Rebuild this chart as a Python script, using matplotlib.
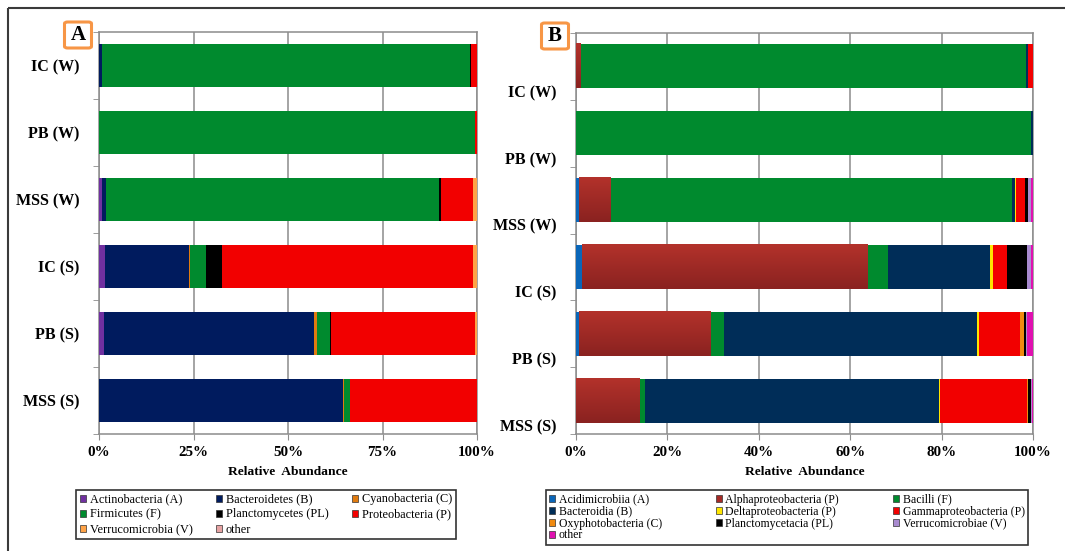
import numpy as np
import matplotlib
matplotlib.use('Agg')
from matplotlib import pyplot as plt
from matplotlib.patches import Patch, FancyBboxPatch
from matplotlib.lines import Line2D

plt.rcParams['font.family'] = ['Liberation Serif', 'DejaVu Serif']

samples = ['IC (W)', 'PB (W)', 'MSS (W)', 'IC (S)', 'PB (S)', 'MSS (S)']

# panel A: phylum level (% of reads)
phyla = ['Actinobacteria (A)', 'Bacteroidetes (B)', 'Cyanobacteria (C)',
         'Firmicutes (F)', 'Planctomycetes (PL)', 'Proteobacteria (P)',
         'Verrucomicrobia (V)', 'other']
phyla_colors = ['#7030A0', '#001B5E', '#E07B10', '#008A2E',
                '#000000', '#F20000', '#FFA347', '#E6A3A3']
actinobacteria = [0.1, 0.0, 0.8, 1.7, 1.2, 0.0]
bacteroidetes = [0.6, 0.0, 1.0, 22.0, 55.8, 64.5]
cyanobacteria = [0.0, 0.0, 0.0, 0.35, 0.8, 0.4]
firmicutes = [97.4, 99.5, 88.1, 4.3, 3.3, 1.6]
planctomycetes = [0.3, 0.0, 0.6, 4.3, 0.3, 0.0]
proteobacteria = [1.6, 0.5, 8.5, 66.3, 38.2, 33.5]
verrucomicrobia = [0.0, 0.0, 0.9, 1.0, 0.4, 0.0]
other_a = [0.0, 0.0, 0.0, 0.05, 0.0, 0.0]
phyla_values = [actinobacteria, bacteroidetes, cyanobacteria, firmicutes,
                planctomycetes, proteobacteria, verrucomicrobia, other_a]

# panel B: class level (% of reads)
classes = ['Acidimicrobiia (A)', 'Alphaproteobacteria (P)', 'Bacilli (F)',
           'Bacteroidia (B)', 'Deltaproteobacteria (P)', 'Gammaproteobacteria (P)',
           'Oxyphotobacteria (C)', 'Planctomycetacia (PL)', 'Verrucomicrobiae (V)',
           'other']
class_colors = ['#0A66B8', '#A52A26', '#008A2E', '#002D58', '#FFE600',
                '#F20000', '#F08A10', '#000000', '#A98BD0', '#E010B0']
acidimicrobiia = [0.0, 0.0, 0.6, 1.3, 0.6, 0.0]
alphaproteobacteria = [0.9, 0.0, 6.8, 62.4, 28.7, 13.9]
bacilli = [97.5, 99.5, 88.0, 4.6, 3.1, 1.2]
bacteroidia = [0.6, 0.5, 0.6, 22.2, 55.3, 64.3]
deltaproteobacteria = [0.0, 0.0, 0.3, 0.65, 0.5, 0.2]
gammaproteobacteria = [0.9, 0.0, 1.9, 3.1, 8.9, 19.0]
oxyphotobacteria = [0.0, 0.0, 0.0, 0.0, 0.9, 0.4]
planctomycetacia = [0.0, 0.0, 0.7, 4.5, 0.4, 0.5]
verrucomicrobiae = [0.0, 0.0, 0.6, 0.9, 0.3, 0.3]
other_b = [0.1, 0.0, 0.5, 0.35, 1.3, 0.2]
class_values = [acidimicrobiia, alphaproteobacteria, bacilli, bacteroidia,
                deltaproteobacteria, gammaproteobacteria, oxyphotobacteria,
                planctomycetacia, verrucomicrobiae, other_b]

GRID = '#8C8C8C'


def stacked_panel(ax, values, colors, height, ticks, label_shift, gradient_idx=None):
    pos = np.arange(len(samples))
    left = np.zeros(len(samples))
    for i, (vals, col) in enumerate(zip(values, colors)):
        vals = np.asarray(vals, dtype=float)
        ax.barh(pos, vals, left=left, height=height, color=col, linewidth=0, zorder=3)
        if i == gradient_idx:
            # darker toward the bottom of each bar
            grad = np.linspace(0, 1, 64).reshape(-1, 1)
            cmap = matplotlib.colors.LinearSegmentedColormap.from_list(
                'shade', ['#B3322B', '#8A2220'])
            for p, l, v in zip(pos, left, vals):
                if v > 0:
                    ax.imshow(grad, cmap=cmap, aspect='auto', zorder=3.5,
                              extent=(l, l + v, p + height / 2, p - height / 2))
        left += vals

    ax.set_xlim(0, 100)
    ax.set_ylim(len(samples) - 0.5, -0.5)
    ax.set_xticks(ticks)
    ax.set_xticklabels([f'{t}%' for t in ticks], fontsize=10.8, fontweight='bold')
    ax.tick_params(axis='x', length=4, color=GRID, pad=5)
    ax.set_yticks(pos + label_shift)
    ax.set_yticklabels(samples, fontsize=11.5, fontweight='bold')
    ax.tick_params(axis='y', length=0, pad=14)
    ax.set_yticks(np.arange(len(samples) + 1) - 0.5, minor=True)
    ax.tick_params(axis='y', which='minor', length=4, color=GRID)
    ax.xaxis.grid(True, color=GRID, linewidth=1.1, zorder=0)
    ax.set_axisbelow(True)
    for s in ax.spines.values():
        s.set_color(GRID)
        s.set_linewidth(1.1)
    ax.set_xlabel('Relative  Abundance', fontsize=9.7, fontweight='bold', labelpad=5)


def panel_tag(fig, x, y, letter):
    w, h = 27 / 1065, 26 / 551
    box = FancyBboxPatch((x - w / 2, y - h / 2), w, h, transform=fig.transFigure,
                         boxstyle='round,pad=0,rounding_size=0.003',
                         facecolor='white', edgecolor='#F79646', linewidth=2.2)
    fig.patches.append(box)
    fig.text(x, y, letter, ha='center', va='center', fontsize=15, fontweight='bold')


def square_handles(colors):
    return [Patch(facecolor=c, edgecolor='#333333', linewidth=0.5) for c in colors]


fig = plt.figure(figsize=(10.65, 5.51), dpi=100)

# outer frame: only the top and left edges fall inside the canvas
fig.add_artist(Line2D([8 / 1065, 1.02], [1 - 8 / 551, 1 - 8 / 551], transform=fig.transFigure,
                      color='#3A3A3A', linewidth=1.5, solid_capstyle='butt'))
fig.add_artist(Line2D([8 / 1065, 8 / 1065], [-0.02, 1 - 8 / 551], transform=fig.transFigure,
                      color='#3A3A3A', linewidth=1.5, solid_capstyle='butt'))

ax_a = fig.add_axes([99 / 1065, 1 - 434 / 551, 378 / 1065, 402 / 551])
stacked_panel(ax_a, phyla_values, phyla_colors, 0.63, [0, 25, 50, 75, 100], 0.0)

ax_b = fig.add_axes([576 / 1065, 1 - 434 / 551, 457 / 1065, 401 / 551])
stacked_panel(ax_b, class_values, class_colors, 0.66, [0, 20, 40, 60, 80, 100], 0.37,
              gradient_idx=1)

panel_tag(fig, 78 / 1065, 1 - 35 / 551, 'A')
panel_tag(fig, 555 / 1065, 1 - 36 / 551, 'B')

# legends: reorder so the column-major fill reads row by row
order_a = [0, 3, 6, 1, 4, 7, 2, 5]
h_a = square_handles(phyla_colors)
leg_a = fig.legend([h_a[i] for i in order_a], [phyla[i] for i in order_a], ncol=3,
                   loc='center', mode='expand',
                   bbox_to_anchor=(70 / 1065, 1 - 537 / 551, 392 / 1065, 45 / 551),
                   fontsize=8.8, handlelength=0.5, handleheight=0.5, handletextpad=0.3,
                   labelspacing=0.25, borderpad=0.3, fancybox=False,
                   edgecolor='#333333', framealpha=1)
leg_a.get_frame().set_linewidth(1.2)

order_b = [0, 3, 6, 9, 1, 4, 7, 2, 5, 8]
h_b = square_handles(class_colors)
leg_b = fig.legend([h_b[i] for i in order_b], [classes[i] for i in order_b], ncol=3,
                   loc='center', mode='expand',
                   bbox_to_anchor=(540 / 1065, 1 - 543 / 551, 494 / 1065, 51 / 551),
                   fontsize=8.5, handlelength=0.5, handleheight=0.5, handletextpad=0.3,
                   labelspacing=0.0, borderpad=0.3, fancybox=False,
                   edgecolor='#333333', framealpha=1)
leg_b.get_frame().set_linewidth(1.2)

fig.savefig('out.png', dpi=100)
